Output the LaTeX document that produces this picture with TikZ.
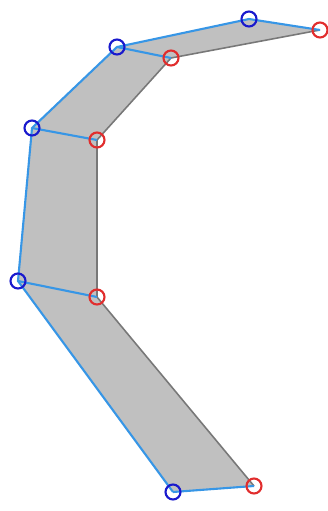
\documentclass[tikz,border=0pt]{standalone}
\usepackage{tikz}
\usetikzlibrary{positioning}
\definecolor{edgeblue}{RGB}{55,150,230}
\definecolor{ptblue}{RGB}{25,25,205}
\definecolor{ptred}{RGB}{225,45,45}
\definecolor{bandgray}{RGB}{192,192,192}
\definecolor{rimgray}{RGB}{120,120,120}
\begin{document}
\begin{tikzpicture}[x=0.02cm, y=-0.02cm,
    pt/.style={circle, draw, line width=1.2pt, minimum size=0.3cm, inner sep=0pt},
    bluept/.style={pt, draw=ptblue},
    redpt/.style={pt, draw=ptred},
    link/.style={edgeblue, line width=1.2pt}]
  \useasboundingbox (0,0) rectangle (328,511);
  % points
  \coordinate (b1) at (249,19);
  \coordinate (b2) at (117,47);
  \coordinate (b3) at (32,128);
  \coordinate (b4) at (18,281);
  \coordinate (b5) at (173,492);
  \coordinate (r1) at (320,30);
  \coordinate (r2) at (171,58);
  \coordinate (r3) at (97,140);
  \coordinate (r4) at (97,297);
  \coordinate (r5) at (254,486);
  % band
  \fill[bandgray] (b5) -- (b4) -- (b3) -- (b2) -- (b1) -- (r1) -- (r2) -- (r3) -- (r4) -- (r5) -- cycle;
  \draw[rimgray, line width=0.9pt] (r1) -- (r2) -- (r3) -- (r4) -- (r5);
  \draw[link] (b5) -- (b4) -- (b3) -- (b2) -- (b1) -- (r1);
  \draw[link] (b2) -- (r2);
  \draw[link] (b3) -- (r3);
  \draw[link] (b4) -- (r4);
  \draw[link] (b5) -- (r5);
  % markers
  \foreach \i in {1,...,5} {
    \node[bluept] (B\i) at (b\i) {};
    \node[redpt]  (R\i) at (r\i) {};
  }
\end{tikzpicture}
\end{document}
